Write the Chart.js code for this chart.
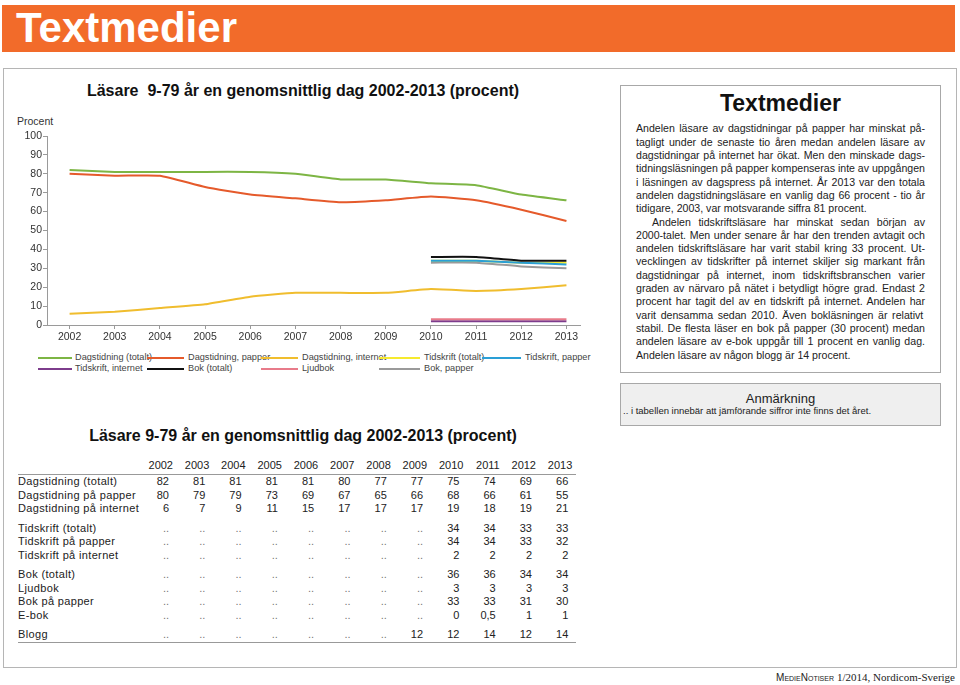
<!DOCTYPE html>
<html><head><meta charset="utf-8">
<script src="https://cdn.jsdelivr.net/npm/chart.js@4/dist/chart.umd.min.js"></script>
<style>
html,body{margin:0;padding:0;background:#fff;}
body{width:960px;height:685px;position:relative;overflow:hidden;font-family:"Liberation Sans",Arial,Helvetica,sans-serif;color:#222;}
.abs{position:absolute;white-space:nowrap;}
#header{position:absolute;left:2px;top:5px;width:953px;height:47px;background:#F26B2A;}
#outer{position:absolute;left:3px;top:68px;width:952px;height:598px;border:1px solid #b5b5b5;}
#textbox{position:absolute;left:620px;top:85px;width:319px;height:286px;border:1px solid #a8a8a8;}
#notebox{position:absolute;left:620px;top:383px;width:319px;height:41px;border:1px solid #a8a8a8;background:#efefef;}
.ln{position:absolute;left:636px;font-size:10.6px;line-height:13.3px;height:13.3px;white-space:nowrap;color:#222;}
.cell{position:absolute;font-size:11px;line-height:13.5px;text-align:right;color:#222;white-space:nowrap;}
</style></head>
<body>
<div id="header"></div>
<div class="abs" style="left:16px;top:7px;font-size:42px;line-height:42px;font-weight:bold;color:#fff;">Textmedier</div>
<div id="outer"></div>

<div class="abs" style="left:0;width:606px;text-align:center;top:83px;font-size:16px;line-height:16px;font-weight:bold;color:#111;">Läsare&nbsp; 9-79 år en genomsnittlig dag 2002-2013 (procent)</div>
<div class="abs" style="left:17px;top:115.5px;font-size:10.5px;line-height:10.5px;color:#333;">Procent</div>
<canvas id="c" width="600" height="230" style="position:absolute;left:0;top:120px;"></canvas>
<div id="legend"></div>

<div id="textbox"></div>
<div class="abs" style="left:620px;width:321px;text-align:center;top:91.5px;font-size:23px;line-height:23px;font-weight:bold;color:#111;">Textmedier</div>
<div id="body"></div>

<div id="notebox"></div>
<div class="abs" style="left:620px;width:321px;text-align:center;top:391.5px;font-size:13px;line-height:13px;color:#222;">Anmärkning</div>
<div class="abs" style="left:623px;top:406px;font-size:9.5px;line-height:10px;color:#222;">.. i tabellen innebär att jämförande siffror inte finns det året.</div>

<div class="abs" style="left:0;width:606px;text-align:center;top:428px;font-size:16px;line-height:16px;font-weight:bold;color:#111;">Läsare 9-79 år en genomsnittlig dag 2002-2013 (procent)</div>
<div id="table"></div>

<div class="abs" style="right:5px;top:671.5px;font-size:11px;line-height:11px;color:#222;"><span style="font-variant:small-caps;font-family:'Liberation Sans',Arial,sans-serif;font-size:10px;">MedieNotiser</span> <span style="font-family:'Liberation Serif','Times New Roman',serif;">1/2014, Nordicom-Sverige</span></div>

<script>
// ---- data ----
const years = [2002, 2003, 2004, 2005, 2006, 2007, 2008, 2009, 2010, 2011, 2012, 2013];
const dagTotal    = [82, 81, 81, 81, 81, 80, 77, 77, 75, 74, 69, 66];
const dagPapper   = [80, 79, 79, 73, 69, 67, 65, 66, 68, 66, 61, 55];
const dagInternet = [6, 7, 9, 11, 15, 17, 17, 17, 19, 18, 19, 21];
const tidTotal    = [null, null, null, null, null, null, null, null, 34, 34, 33, 33];
const tidPapper   = [null, null, null, null, null, null, null, null, 34, 34, 33, 32];
const tidInternet = [null, null, null, null, null, null, null, null, 2, 2, 2, 2];
const bokTotal    = [null, null, null, null, null, null, null, null, 36, 36, 34, 34];
const ljudbok     = [null, null, null, null, null, null, null, null, 3, 3, 3, 3];
const bokPapper   = [null, null, null, null, null, null, null, null, 33, 33, 31, 30];
const eBok        = [null, null, null, null, null, null, null, null, 0, 0.5, 1, 1];
const blogg       = [null, null, null, null, null, null, null, 12, 12, 14, 12, 14];
const yTicks = [0, 10, 20, 30, 40, 50, 60, 70, 80, 90, 100];
const legendNames = ['Dagstidning (totalt)', 'Dagstidning, papper', 'Dagstidning, internet', 'Tidskrift (totalt)', 'Tidskrift, papper',
                     'Tidskrift, internet', 'Bok (totalt)', 'Ljudbok', 'Bok, papper'];
const tableLabels = ['Dagstidning (totalt)', 'Dagstidning på papper', 'Dagstidning på internet',
                     'Tidskrift (totalt)', 'Tidskrift på papper', 'Tidskrift på internet',
                     'Bok (totalt)', 'Ljudbok', 'Bok på papper', 'E-bok', 'Blogg'];

// ---- styles ----
const FONT = "'Liberation Sans', Arial, Helvetica, sans-serif";
const chartSeries = [dagTotal, dagPapper, dagInternet, tidTotal, tidPapper, tidInternet, bokTotal, ljudbok, bokPapper];
const colors = ['#7DB544', '#E55A2B', '#F0BD2E', '#F6EA2E', '#2A9FD6', '#7D3C8C', '#111111', '#E87B8A', '#9A9A9A'];
const orders = [1, 2, 3, 8, 7, 5, 6, 4, 9];

new Chart(document.getElementById('c').getContext('2d'), {
  type: 'line',
  data: {
    datasets: chartSeries.map((s, k) => ({
      label: legendNames[k],
      data: years.map((y, i) => ({x: y, y: s[i]})),
      borderColor: colors[k],
      backgroundColor: colors[k],
      borderWidth: 2,
      pointRadius: 0,
      tension: 0.15,
      fill: false,
      spanGaps: false,
      order: orders[k]
    }))
  },
  options: {
    responsive: false,
    animation: false,
    devicePixelRatio: 1,
    layout: {padding: {top: 16, right: 20, bottom: 0, left: 0}},
    plugins: {legend: {display: false}, title: {display: false}, tooltip: {enabled: false}},
    scales: {
      x: {
        type: 'linear', min: 2001.5, max: 2013.3,
        afterBuildTicks: s => { s.ticks = years.map(v => ({value: v})); },
        afterFit: s => { s.height = 25; },
        ticks: {callback: v => String(v), font: {size: 10.5, family: FONT}, color: '#333', padding: 2, maxRotation: 0, autoSkip: false},
        grid: {drawOnChartArea: false, tickLength: 4, color: '#9a9a9a'},
        border: {color: '#9a9a9a'}
      },
      y: {
        min: 0, max: 100,
        afterBuildTicks: s => { s.ticks = yTicks.map(v => ({value: v})); },
        afterFit: s => { s.width = 47; },
        ticks: {font: {size: 10.5, family: FONT}, color: '#333', padding: 1},
        grid: {drawOnChartArea: false, tickLength: 4, color: '#9a9a9a'},
        border: {color: '#9a9a9a'}
      }
    }
  }
});

// ---- legend (HTML) ----
const legPos = [[38, 72, 75], [147, 184, 188], [261, 298, 302], [379, 420, 424], [482, 521, 525]];
const legendEl = document.getElementById('legend');
legendNames.forEach((name, k) => {
  const row = k < 5 ? 0 : 1, col = k < 5 ? k : k - 5;
  const cy = row === 0 ? 358 : 369;
  const p = legPos[col];
  const l = document.createElement('div');
  l.style.cssText = `position:absolute;left:${p[0]}px;width:${p[1]-p[0]}px;top:${cy-1.2}px;height:2.4px;background:${colors[k]};`;
  legendEl.appendChild(l);
  const t = document.createElement('div');
  t.className = 'abs';
  t.style.cssText += `left:${p[2]}px;top:${cy-4.6}px;font-size:9.2px;line-height:9.2px;color:#444;`;
  t.textContent = name;
  legendEl.appendChild(t);
});

// ---- body text (each line justified to the column width) ----
const bodyLines = [
 ['Andelen läsare av dagstidningar på papper har minskat på-', 0],
 ['tagligt under de senaste tio åren medan andelen läsare av', 0],
 ['dagstidningar på internet har ökat. Men den minskade dags-', 0],
 ['tidningsläsningen på papper kompenseras inte av uppgången', 0],
 ['i läsningen av dagspress på internet. År 2013 var den totala', 0],
 ['andelen dagstidningsläsare en vanlig dag 66 procent - tio år', 0],
 ['tidigare, 2003, var motsvarande siffra 81 procent.', 1],
 ['Andelen tidskriftsläsare har minskat sedan början av', 2],
 ['2000-talet. Men under senare år har den trenden avtagit och', 0],
 ['andelen tidskriftsläsare har varit stabil kring 33 procent. Ut-', 0],
 ['vecklingen av tidskrifter på internet skiljer sig markant från', 0],
 ['dagstidningar på internet, inom tidskriftsbranschen varier', 0],
 ['graden av närvaro på nätet i betydligt högre grad. Endast 2', 0],
 ['procent har tagit del av en tidskrift på internet. Andelen har', 0],
 ['varit densamma sedan 2010.  Även bokläsningen är relativt', 0],
 ['stabil. De flesta läser en bok på papper (30 procent) medan', 0],
 ['andelen läsare av e-bok uppgår till 1 procent en vanlig dag.', 0],
 ['Andelen läsare av någon blogg är 14 procent.', 1]
];
const bodyEl = document.getElementById('body');
const RIGHT_EDGE = 925;
bodyLines.forEach((ln, i) => {
  const d = document.createElement('div');
  d.className = 'ln';
  d.style.top = (122.4 + i * 13.3) + 'px';
  const left = ln[1] === 2 ? 652 : 636;
  d.style.left = left + 'px';
  d.textContent = ln[0];
  bodyEl.appendChild(d);
  if (ln[1] !== 1) {
    const target = RIGHT_EDGE - left;
    const nat = d.getBoundingClientRect().width;
    const spaces = (ln[0].match(/ /g) || []).length;
    if (spaces > 0) d.style.wordSpacing = ((target - nat) / spaces) + 'px';
  }
});

// ---- table ----
const tableData = [dagTotal, dagPapper, dagInternet, tidTotal, tidPapper, tidInternet, bokTotal, ljudbok, bokPapper, eBok, blogg];
const groupBreaks = [3, 6, 10];
const tbl = document.getElementById('table');
const colRight = i => 173 + 36.3 * i;
function addCell(txt, left, width, y, align, extra) {
  const d = document.createElement('div');
  d.className = 'cell';
  d.style.cssText += `left:${left}px;width:${width}px;top:${y}px;text-align:${align};${extra||''}`;
  d.textContent = txt;
  tbl.appendChild(d);
}
years.forEach((y, i) => addCell(String(y), colRight(i) - 34, 34, 458.5, 'right'));
const hl = document.createElement('div');
hl.style.cssText = 'position:absolute;left:18px;width:558px;top:474px;height:1px;background:#999;';
tbl.appendChild(hl);
let rowTop = 475;
tableData.forEach((row, r) => {
  if (groupBreaks.includes(r)) rowTop += 6;
  addCell(tableLabels[r], 18, 130, rowTop, 'left', 'letter-spacing:0.35px;');
  row.forEach((v, i) => {
    const txt = v === null ? '..' : String(v).replace('.', ',');
    addCell(txt, colRight(i) - 38, 34, rowTop, 'right', v === null ? 'color:#777;' : '');
  });
  rowTop += 13.5;
});
const bl = document.createElement('div');
bl.style.cssText = `position:absolute;left:18px;width:558px;top:${rowTop}px;height:1px;background:#999;`;
tbl.appendChild(bl);
</script>
</body></html>
